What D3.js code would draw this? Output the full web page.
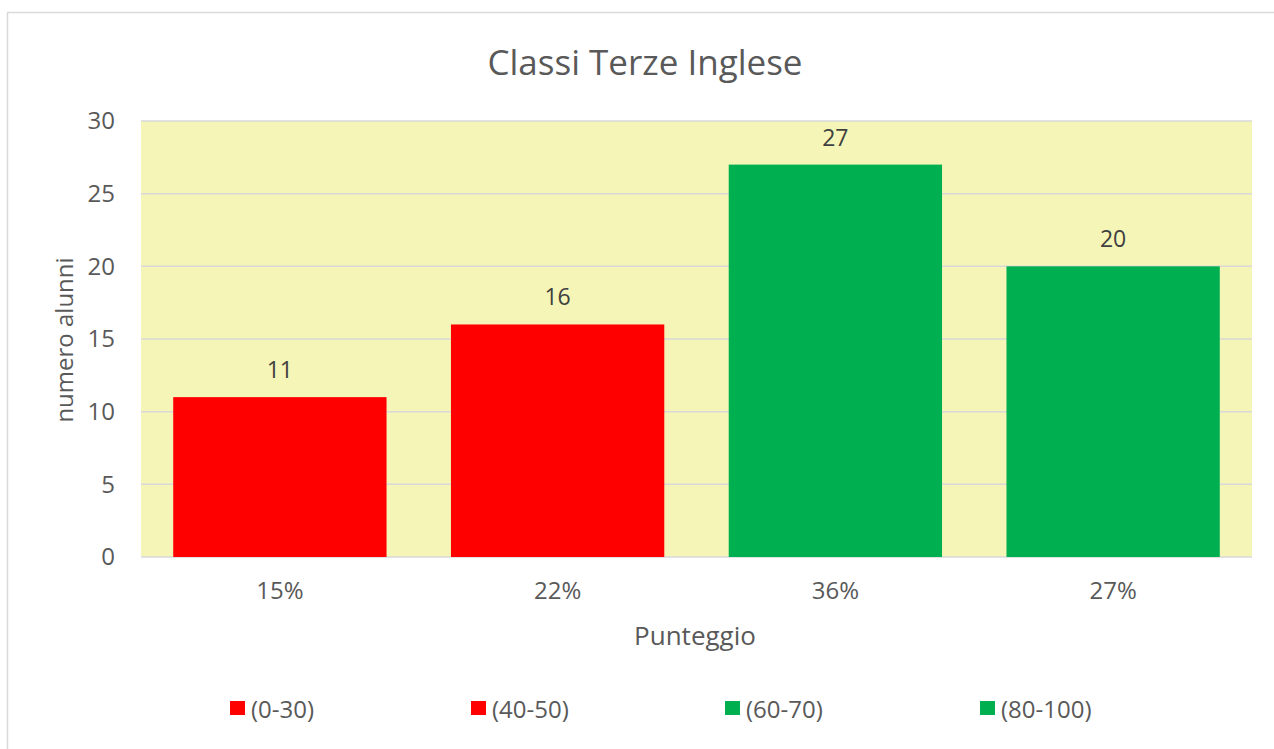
<!DOCTYPE html>
<html>
<head>
<meta charset="utf-8">
<script src="https://cdn.jsdelivr.net/npm/d3@7"></script>
<style>
    body { margin: 0; background: #fff; }
    svg { display: block; font-family: 'Open Sans', sans-serif; }
</style>
</head>
<body>
<div id="chart"></div>
<script>
// Chart data
const categories = ['(0-30)', '(40-50)', '(60-70)', '(80-100)'];
const xLabels = ['15%', '22%', '36%', '27%'];
const values = [11, 16, 27, 20];
const barColors = ['#FF0000', '#FF0000', '#00B050', '#00B050'];
const yTicks = [0, 5, 10, 15, 20, 25, 30];

const width = 1274;
const height = 749;
const margin = {top: 121, right: 22, bottom: 192, left: 141};
const textColor = '#595959';

const svg = d3.select('#chart')
    .append('svg')
    .attr('width', width)
    .attr('height', height);

// Outer border of the chart area
svg.append('rect')
    .attr('x', 7.5)
    .attr('y', 12.5)
    .attr('width', width)
    .attr('height', height)
    .attr('fill', '#fff')
    .attr('stroke', '#D9D9D9')
    .attr('stroke-width', 1.5);

const x = d3.scaleBand()
    .domain(categories)
    .range([margin.left, width - margin.right])
    .paddingInner(0.232)
    .paddingOuter(0.116);

const y = d3.scaleLinear()
    .domain([0, 30])
    .range([height - margin.bottom, margin.top]);

// Plot background
svg.append('rect')
    .attr('x', margin.left)
    .attr('y', margin.top)
    .attr('width', width - margin.right - margin.left)
    .attr('height', y(0) - y(30))
    .attr('fill', '#F4F5B6');

// Gridlines
svg.append('g')
    .selectAll('line')
    .data(yTicks)
    .enter()
    .append('line')
    .attr('x1', margin.left)
    .attr('x2', width - margin.right)
    .attr('y1', d => y(d))
    .attr('y2', d => y(d))
    .attr('stroke', '#D9D9D9')
    .attr('stroke-width', 1.5);

// Y axis labels
svg.append('g')
    .attr('transform', `translate(${margin.left},0)`)
    .call(d3.axisLeft(y).tickValues(yTicks).tickSize(0).tickPadding(26))
    .call(g => g.select('.domain').remove())
    .selectAll('text')
    .attr('fill', textColor)
    .style('font-size', '24px')
    .style('font-family', "'Open Sans', sans-serif");

// Bars
svg.selectAll('.bar')
    .data(values)
    .enter()
    .append('rect')
    .attr('class', 'bar')
    .attr('x', (d, i) => x(categories[i]))
    .attr('y', d => y(d))
    .attr('width', x.bandwidth())
    .attr('height', d => y(0) - y(d))
    .attr('fill', (d, i) => barColors[i]);

// Data labels
svg.selectAll('.label')
    .data(values)
    .enter()
    .append('text')
    .attr('class', 'label')
    .attr('x', (d, i) => x(categories[i]) + x.bandwidth() / 2)
    .attr('y', d => y(d) - 28)
    .attr('text-anchor', 'middle')
    .attr('dominant-baseline', 'central')
    .attr('fill', '#404040')
    .style('font-size', '23px')
    .text(d => d);

// X axis category labels
const xAxis = svg.append('g')
    .attr('transform', `translate(0,${y(0)})`)
    .call(d3.axisBottom(x).tickSize(0).tickPadding(25).tickFormat((d, i) => xLabels[i]));
xAxis.select('.domain').remove();
xAxis.selectAll('text')
    .attr('fill', textColor)
    .style('font-size', '24px')
    .style('font-family', "'Open Sans', sans-serif");

// Title
svg.append('text')
    .attr('x', 645)
    .attr('y', 75)
    .attr('text-anchor', 'middle')
    .attr('fill', textColor)
    .style('font-size', '35px')
    .text('Classi Terze Inglese');

// Axis titles
svg.append('text')
    .attr('x', 695)
    .attr('y', 645)
    .attr('text-anchor', 'middle')
    .attr('fill', textColor)
    .style('font-size', '26px')
    .text('Punteggio');

svg.append('text')
    .attr('transform', 'translate(73,340) rotate(-90)')
    .attr('text-anchor', 'middle')
    .attr('fill', textColor)
    .style('font-size', '24px')
    .text('numero alunni');

// Legend
const legendX = [230, 471, 725, 980];
const legend = svg.selectAll('.legend')
    .data(categories)
    .enter()
    .append('g')
    .attr('class', 'legend')
    .attr('transform', (d, i) => `translate(${legendX[i]},701)`);

legend.append('rect')
    .attr('width', 15)
    .attr('height', 14)
    .attr('fill', (d, i) => barColors[i]);

legend.append('text')
    .attr('x', 21)
    .attr('y', 7)
    .attr('dominant-baseline', 'central')
    .attr('fill', textColor)
    .style('font-size', '24px')
    .text(d => d);
</script>
</body>
</html>
